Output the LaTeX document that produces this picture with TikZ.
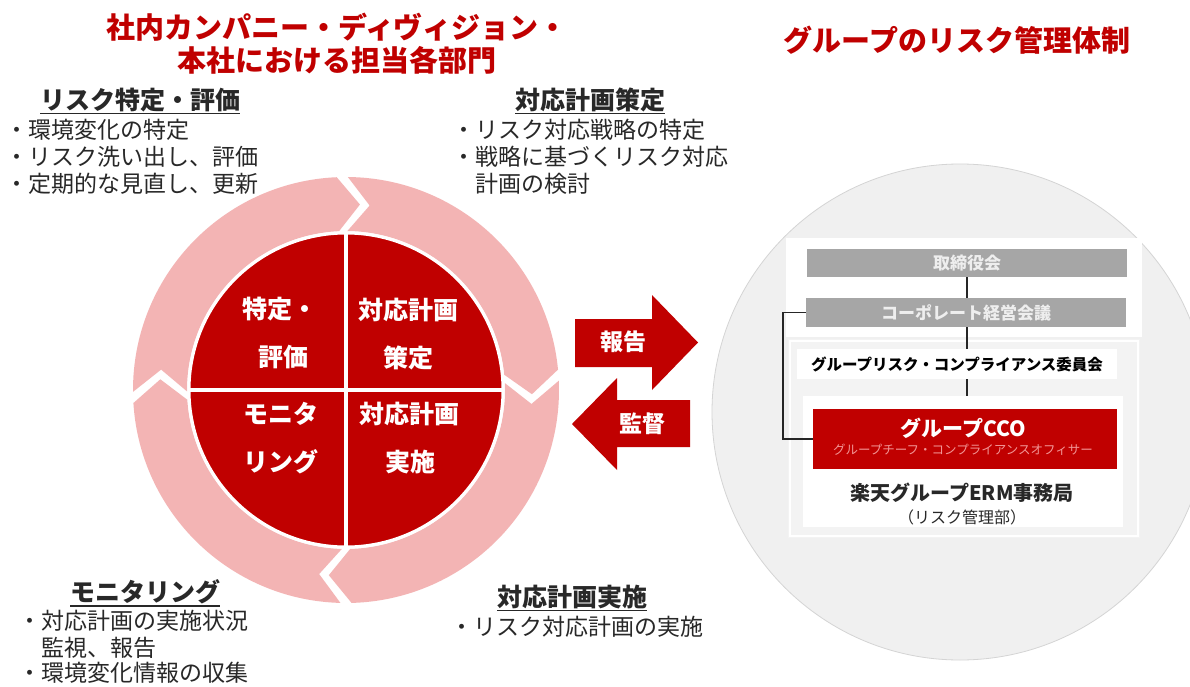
\documentclass[tikz,border=0pt]{standalone}
\usepackage{fontspec}
\setmainfont{Noto Sans CJK JP}
\usetikzlibrary{calc}
\definecolor{titred}{RGB}{192,0,0}
\definecolor{darkred}{RGB}{192,0,0}
\definecolor{ringpink}{RGB}{243,180,180}
\definecolor{txt}{RGB}{40,40,40}
\definecolor{graybox}{RGB}{166,166,166}
\definecolor{grayboxtxt}{RGB}{238,238,238}
\definecolor{circgray}{RGB}{240,240,240}
\definecolor{circedge}{RGB}{212,212,212}
\definecolor{panelgray}{RGB}{243,243,243}
\definecolor{subpink}{RGB}{242,150,150}
\tikzset{
  titletxt/.style={font=\fontsize{29}{31}\selectfont\bfseries, text=titred, inner sep=0},
  headtxt/.style={font=\fontsize{25}{27}\selectfont\bfseries, text=txt, anchor=west, inner sep=0},
  bodytxt/.style={font=\fontsize{23}{25}\selectfont, text=txt, anchor=west, inner sep=0},
  quadtxt/.style={font=\fontsize{25}{27}\selectfont\bfseries, text=white, inner sep=0},
  arrowtxt/.style={font=\fontsize{23}{25}\selectfont\bfseries, text=white, inner sep=0},
  ulinestyle/.style={line width=1.3pt, txt},
  graynode/.style={fill=graybox, text=grayboxtxt, minimum width=320pt, minimum height=28pt, inner sep=0, font=\fontsize{17}{19}\selectfont\bfseries},
  whitenode/.style={fill=white, inner sep=0},
  connline/.style={line width=1.6pt, black!85},
}
\begin{document}
\begin{tikzpicture}[x=1pt,y=-1pt]
\useasboundingbox (0,0) rectangle (1190,687);
\fill[white] (0,0) rectangle (1190,687);

% ---------- titles
\node[titletxt] (t1) at (337,27) {社内カンパニー・ディヴィジョン・};
\node[titletxt] (t2) at (337,60) {本社における担当各部門};
\node[titletxt] (t3) at (957,40) {グループのリスク管理体制};

% ---------- cycle
\begin{scope}[shift={(346,390)}, y=1pt]
  \foreach \s/\e in {89.5/5.5, 2.5/-88.5, -91.5/-176.5, -179.5/-267.5}{
    \fill[ringpink] (\s:213) arc[start angle=\s, end angle=\e, radius=213]
      -- ({\e-6.8}:186) -- (\e:159) arc[start angle=\e, end angle=\s, radius=159]
      -- ({\s-6.8}:186) -- cycle;
  }
  \fill[darkred] (0,0) circle[radius=157];
  \draw[white, line width=3pt] (0,0) circle[radius=157];
  \draw[white, line width=4pt] (0,157) -- (0,-157);
  \draw[white, line width=4pt] (-157,0) -- (157,0);
\end{scope}

\node[quadtxt] (q1a) at (280,309) {特定・};
\node[quadtxt] (q1b) at (283,357) {評価};
\node[quadtxt] (q2a) at (408,310) {対応計画};
\node[quadtxt] (q2b) at (408,358) {策定};
\node[quadtxt] (q3a) at (281,414) {モニタ};
\node[quadtxt] (q3b) at (281,462) {リング};
\node[quadtxt] (q4a) at (409,414) {対応計画};
\node[quadtxt] (q4b) at (410,462) {実施};

% ---------- text blocks
\node[headtxt] (h1) at (40,100) {リスク特定・評価};
\draw[ulinestyle] ([yshift=-1.5pt]h1.south west) -- ([yshift=-1.5pt]h1.south east);
\node[bodytxt] (b11) at (5,130) {・環境変化の特定};
\node[bodytxt] (b12) at (5,157) {・リスク洗い出し、評価};
\node[bodytxt] (b13) at (5,184) {・定期的な見直し、更新};

\node[headtxt] (h2) at (515,100) {対応計画策定};
\draw[ulinestyle] ([yshift=-1.5pt]h2.south west) -- ([yshift=-1.5pt]h2.south east);
\node[bodytxt] (b21) at (452,130) {・リスク対応戦略の特定};
\node[bodytxt] (b22) at (452,157) {・戦略に基づくリスク対応};
\node[bodytxt] (b23) at (475,184) {計画の検討};

\node[headtxt] (h3) at (70,592) {モニタリング};
\draw[ulinestyle] ([yshift=-1.5pt]h3.south west) -- ([yshift=-1.5pt]h3.south east);
\node[bodytxt] (b31) at (18,621) {・対応計画の実施状況};
\node[bodytxt] (b32) at (41,648) {監視、報告};
\node[bodytxt] (b33) at (18,673) {・環境変化情報の収集};

\node[headtxt] (h4) at (497,597) {対応計画実施};
\draw[ulinestyle] ([yshift=-1.5pt]h4.south west) -- ([yshift=-1.5pt]h4.south east);
\node[bodytxt] (b41) at (450,627) {・リスク対応計画の実施};

% ---------- arrows
\fill[darkred] (575,319) -- (652,319) -- (652,295) -- (698,342.5) -- (652,390) -- (652,367) -- (575,367) -- cycle;
\node[arrowtxt] (rep) at (623,342) {報告};
\fill[darkred] (690,400) -- (617,400) -- (617,378) -- (572,424) -- (617,470) -- (617,447) -- (690,447) -- cycle;
\node[arrowtxt] (sup) at (642,424) {監督};

% ---------- right panel
\fill[circgray] (960,412) circle[radius=248pt];
\draw[circedge, line width=0.8pt] (960,412) circle[radius=248pt];
\fill[white] (786,238) rectangle (1142,337);
\fill[panelgray] (788,339) rectangle (1140,538);
\draw[white, line width=1.2pt] (790,341) rectangle (1138,536);

\node[graynode] (tori) at (967,263) {取締役会};
\node[graynode, minimum height=29pt] (corp) at (966,312.5) {コーポレート経営会議};
\node[whitenode, minimum width=320pt, minimum height=30pt, font=\fontsize{15.5}{17}\selectfont\bfseries, text=black] (comm) at (957,364) {グループリスク・コンプライアンス委員会};
\node[whitenode, minimum width=320pt, minimum height=131pt] (ermbox) at (963,461.5) {};
\node[fill=darkred, minimum width=304pt, minimum height=60pt, inner sep=0] (cco) at (965,439) {};
\node[font=\fontsize{21}{23}\selectfont\bfseries, text=white, inner sep=0] (ccot) at (963,428) {グループCCO};
\node[font=\fontsize{12.5}{14}\selectfont, text=subpink, inner sep=0] (ccos) at (963,450) {グループチーフ・コンプライアンスオフィサー};
\node[font=\fontsize{20}{22}\selectfont\bfseries, text=txt, inner sep=0] (erm) at (962,493) {楽天グループERM事務局};
\node[font=\fontsize{16}{18}\selectfont, text=txt, inner sep=0] (ermsub) at (962,517) {（リスク管理部）};

\draw[connline] (tori.south -| 967,0) -- (corp.north -| 967,0);
\draw[connline] (corp.south -| 967,0) -- (comm.north -| 967,0);
\draw[connline] (comm.south -| 967,0) -- (ermbox.north -| 967,0);
\draw[connline] (corp.west) -- ++(-23,0) |- (cco.west);
\end{tikzpicture}
\end{document}
